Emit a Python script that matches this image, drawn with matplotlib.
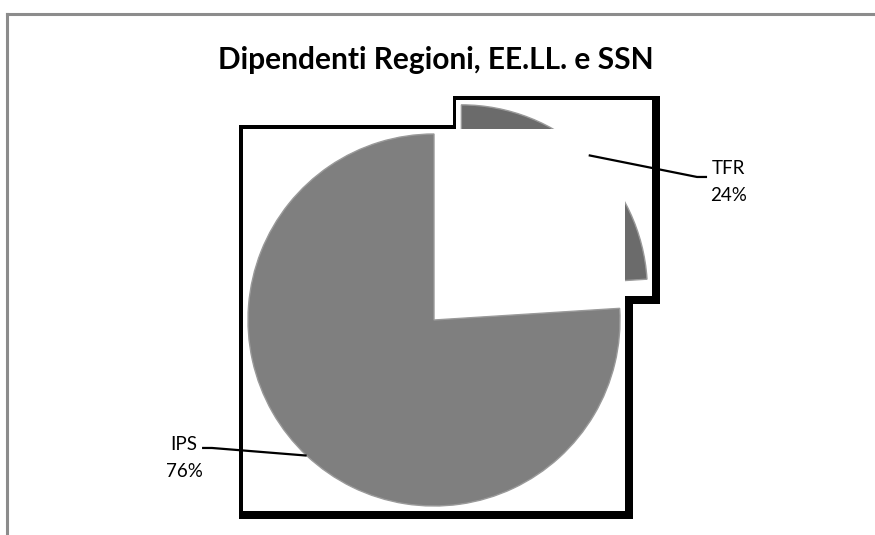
import matplotlib
matplotlib.use("Agg")
import numpy as np
import matplotlib.pyplot as plt
from matplotlib.patches import Rectangle
from matplotlib.lines import Line2D

title = "Dipendenti Regioni, EE.LL. e SSN"
labels = ["TFR", "IPS"]
shares = [24, 76]
colors = ["#6b6b6b", "#7f7f7f"]
explode = [0.215, 0.0]

W, H = 875, 535
CX, CY, R = 434, 320, 186   # pie centre / radius in pixels (from top-left)

plt.rcParams['font.family'] = ['Lato', 'DejaVu Sans']

fig = plt.figure(figsize=(W / 100, H / 100), dpi=100)
ax = fig.add_axes([0, 0, 1, 1])

wedges, _ = ax.pie(shares, explode=explode, colors=colors, startangle=90,
                   counterclock=False, radius=1,
                   wedgeprops=dict(edgecolor="#9a9a9a", linewidth=1.0))

ax.set_xlim(-CX / R, (W - CX) / R)
ax.set_ylim(-(H - CY) / R, CY / R)
ax.set_aspect('equal')
ax.axis('off')

# frame + shadow behind every slice, like the old office export
WHITE_PAD = 0.027
SH_LT = 0.02
SH_RB = 0.045
order = {0: (2, 3, 4), 1: (1, 5, 6)}   # black, white, wedge zorders
for i, w in enumerate(wedges):
    ext = w.get_path().get_extents()
    x0, y0 = ext.x0 - WHITE_PAD, ext.y0 - WHITE_PAD
    x1, y1 = ext.x1 + WHITE_PAD, ext.y1 + WHITE_PAD
    zb, zw, zp = order[i]
    ax.add_patch(Rectangle((x0 - SH_LT, y0 - SH_RB), (x1 - x0) + SH_LT + SH_RB,
                           (y1 - y0) + SH_LT + SH_RB, facecolor="black",
                           edgecolor="none", zorder=zb))
    ax.add_patch(Rectangle((x0, y0), x1 - x0, y1 - y0, facecolor="white",
                           edgecolor="none", zorder=zw))
    w.set_zorder(zp)

# labels with leader lines
label_pos = [(1.581, 0.742), (-1.344, -0.742)]
elbows = [((1.414, 0.769), (1.468, 0.769)), ((-1.194, -0.688), (-1.247, -0.688))]
for i, w in enumerate(wedges):
    mid = np.deg2rad((w.theta1 + w.theta2) / 2)
    sx = w.center[0] + w.r * np.cos(mid)
    sy = w.center[1] + w.r * np.sin(mid)
    (ex, ey), (hx, hy) = elbows[i]
    ax.plot([sx, ex, hx], [sy, ey, hy], color="black", linewidth=1.6,
            solid_capstyle="butt", zorder=7)
    lx, ly = label_pos[i]
    ax.text(lx, ly, f"{labels[i]}\n{shares[i]}%", ha="center", va="center",
            fontsize=13.5, linespacing=1.7, zorder=8)

fig.text(436 / W, 1 - 60 / H, title, ha="center", va="center",
         fontsize=21.5, fontweight="bold")

# chart area border (only top and left visible)
fig.add_artist(Line2D([7 / W, 1], [1 - 13.5 / H, 1 - 13.5 / H],
                      color="#8c8c8c", linewidth=2.2))
fig.add_artist(Line2D([7 / W, 7 / W], [0, 1 - 13.5 / H],
                      color="#8c8c8c", linewidth=2.2))

fig.savefig("out.png", dpi=100)
